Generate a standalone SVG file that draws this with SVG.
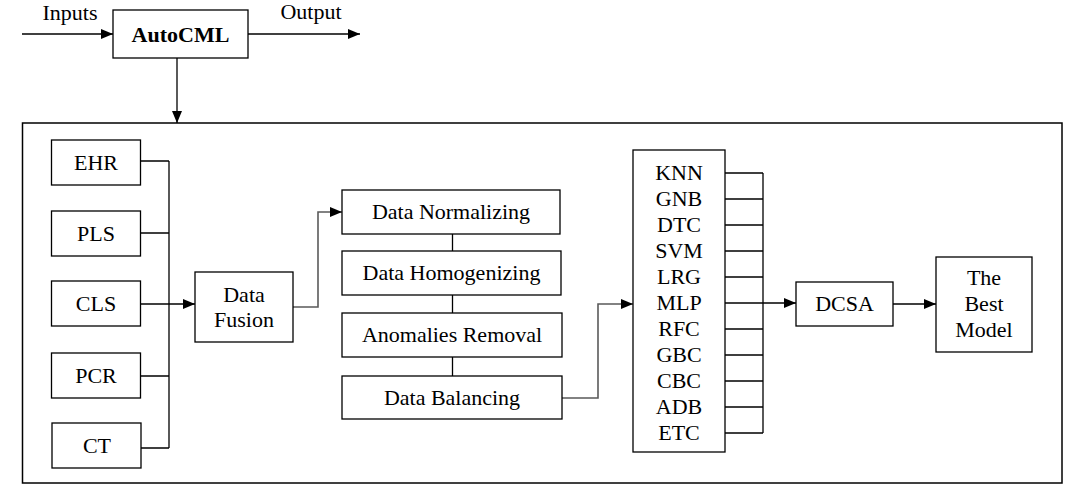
<svg xmlns="http://www.w3.org/2000/svg" width="1080" height="494" viewBox="0 0 1080 494">
<style>
.b{fill:#fff;stroke:#000;stroke-width:1.3}
.t{font-family:"Liberation Serif","Times New Roman",serif;font-size:22px;fill:#000;text-anchor:middle}
.c{fill:none;stroke:#000;stroke-width:1.3}
.g{fill:none;stroke:#5a5a5a;stroke-width:1.6}
</style>
<defs>
<marker id="ah" markerWidth="12" markerHeight="10" refX="12" refY="5" orient="auto" markerUnits="userSpaceOnUse">
<path d="M0,0 L12,5 L0,10 Z" fill="#000"/>
</marker>
</defs>
<rect x="0" y="0" width="1080" height="494" fill="#fff"/>
<g id="outer"><rect x="22.5" y="123" width="1039.5" height="360" class="b" style="stroke-width:1.5;fill:none"/></g>
<g id="connectors">
<line x1="22" y1="34" x2="113" y2="34" class="c" marker-end="url(#ah)"/>
<line x1="248" y1="34" x2="360" y2="34" class="c" marker-end="url(#ah)"/>
<line x1="177" y1="58" x2="177" y2="123" class="c" marker-end="url(#ah)"/>
<path d="M140,161 H169 M140,233 H169 M140,376 H169 M140,448 H169 M169,161 V448" class="c"/>
<line x1="140" y1="304" x2="195" y2="304" class="c" marker-end="url(#ah)"/>
<path d="M293,307 H318 V212 H342" class="g" marker-end="url(#ah)"/>
<path d="M452.5,234 V251 M452.5,295 V313 M452.5,357 V376" class="c"/>
<path d="M562,398 H598 V304 H633" class="g" marker-end="url(#ah)"/>
<path d="M725,173 H763 M725,199 H763 M725,225 H763 M725,251 H763 M725,277 H763 M725,329 H763 M725,355 H763 M725,381 H763 M725,407 H763 M725,433 H763 M763,173 V433" class="c"/>
<line x1="725" y1="303" x2="796" y2="303" class="c" marker-end="url(#ah)"/>
<line x1="893" y1="304" x2="936" y2="304" class="c" marker-end="url(#ah)"/>
</g>
<g id="labels">
<text x="70" y="20" class="t">Inputs</text>
<text x="311" y="19" class="t">Output</text>
</g>
<g id="autocml"><rect x="113" y="10" width="135" height="48" class="b"/><text x="180.5" y="42" class="t" font-weight="bold">AutoCML</text></g>
<g id="ehr"><rect x="51.5" y="140" width="89" height="45" class="b"/><text x="96" y="170" class="t">EHR</text></g>
<g id="pls"><rect x="51.5" y="211" width="89" height="45" class="b"/><text x="96" y="241" class="t">PLS</text></g>
<g id="cls"><rect x="51.5" y="281" width="89" height="45" class="b"/><text x="96" y="311" class="t">CLS</text></g>
<g id="pcr"><rect x="51.5" y="353" width="89" height="45" class="b"/><text x="96" y="383" class="t">PCR</text></g>
<g id="ct"><rect x="52" y="423" width="89" height="45" class="b"/><text x="97" y="453" class="t">CT</text></g>
<g id="fusion"><rect x="195" y="272" width="98" height="70" class="b"/><text x="244" y="302" class="t">Data</text><text x="244" y="327" class="t">Fusion</text></g>
<g id="normalizing"><rect x="342" y="190" width="218" height="44" class="b"/><text x="451" y="219" class="t">Data Normalizing</text></g>
<g id="homogenizing"><rect x="342" y="251" width="219" height="44" class="b"/><text x="451.5" y="280" class="t">Data Homogenizing</text></g>
<g id="anomalies"><rect x="342" y="313" width="220" height="44" class="b"/><text x="452" y="342" class="t">Anomalies Removal</text></g>
<g id="balancing"><rect x="342" y="376" width="220" height="43" class="b"/><text x="452" y="405" class="t">Data Balancing</text></g>
<g id="models"><rect x="633" y="150" width="92" height="302" class="b"/>
<text x="679" y="180" class="t">KNN</text>
<text x="679" y="206" class="t">GNB</text>
<text x="679" y="232" class="t">DTC</text>
<text x="679" y="258" class="t">SVM</text>
<text x="679" y="284" class="t">LRG</text>
<text x="679" y="310" class="t">MLP</text>
<text x="679" y="336" class="t">RFC</text>
<text x="679" y="362" class="t">GBC</text>
<text x="679" y="388" class="t">CBC</text>
<text x="679" y="414" class="t">ADB</text>
<text x="679" y="440" class="t">ETC</text>
</g>
<g id="dcsa"><rect x="796" y="282" width="97" height="44" class="b"/><text x="844.5" y="311" class="t">DCSA</text></g>
<g id="best"><rect x="936" y="257" width="96" height="95" class="b"/><text x="984" y="285" class="t">The</text><text x="984" y="311" class="t">Best</text><text x="984" y="337" class="t">Model</text></g>
</svg>
